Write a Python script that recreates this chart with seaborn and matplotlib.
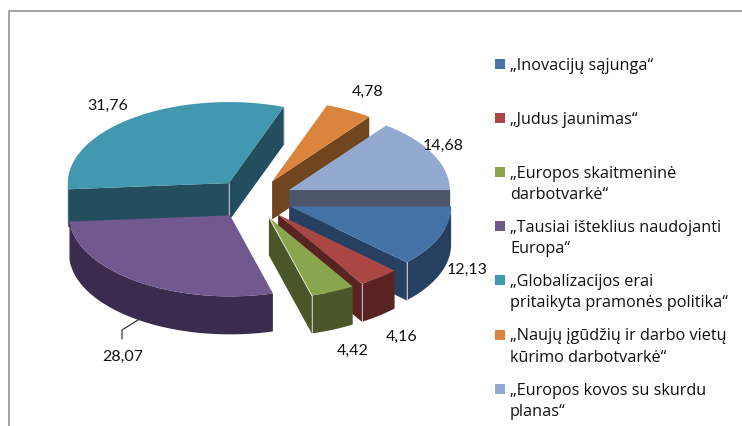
# 3D style exploded pie, drawn by hand since matplotlib has no such pie
import numpy as np
import matplotlib
matplotlib.use('Agg')
import matplotlib.pyplot as plt
import seaborn as sns

# data
names = ['„Inovacijų sąjunga“', '„Judus jaunimas“',
         '„Europos skaitmeninė\ndarbotvarkė“',
         '„Tausiai išteklius naudojanti\nEuropa“',
         '„Globalizacijos erai\npritaikyta pramonės politika“',
         '„Naujų įgūdžių ir darbo vietų\nkūrimo darbotvarkė“',
         '„Europos kovos su skurdu\nplanas“']
values = [12.13, 4.16, 4.42, 28.07, 31.76, 4.78, 14.68]
value_labels = ['12,13', '4,16', '4,42', '28,07', '31,76', '4,78', '14,68']
top_colors = ['#4472a7', '#aa4644', '#89a54e', '#71588f', '#4198af', '#db843d', '#93a9cf']
side_colors = ['#254061', '#592322', '#4a5628', '#3b2c4f', '#234e5d', '#71461f', '#4c5568']

# pixel layout of the pie
cx, cy = 253, 199
rx, ry = 161, 81
depth = 38
explode = 40
draw_order = [4, 5, 6, 0, 1, 2, 3]
label_pos = [(467, 270), (402, 337), (353, 351), (123, 357), (108, 106), (368, 92), (443, 146)]

sns.set_theme(style='white')
plt.rcParams['font.family'] = ['Lato', 'DejaVu Sans']
palette = sns.color_palette(top_colors)

fig, ax = plt.subplots(figsize=(7.42, 4.26), dpi=100)
ax.set_position([0, 0, 1, 1])
ax.set_xlim(0, 742)
ax.set_ylim(426, 0)
ax.axis('off')

# frame of the pasted chart
ax.plot([9, 9, 742], [426, 11, 11], color='#9c9c9c', lw=1.3)

# slice angles, clockwise from east
edges = np.radians(np.concatenate([[0], np.cumsum(values)]) * 3.6)


def rim(a):
    return np.cos(a) * rx, np.sin(a) * ry


for z, i in enumerate(draw_order):
    # later slices must cover the lines of earlier ones too
    z = z * 4 + 3
    a0, a1 = edges[i], edges[i + 1]
    mid = (a0 + a1) / 2
    ox = cx + explode * np.cos(mid)
    oy = cy + explode * 0.5 * np.sin(mid)
    arc = np.linspace(a0, a1, 80)
    ex, ey = rim(arc)

    # cut faces that look towards the viewer
    if np.sin(a0 - np.pi / 2) > 0:
        x0, y0 = rim(a0)
        ax.fill([ox, ox + x0, ox + x0, ox], [oy, oy + y0, oy + y0 + depth, oy + depth],
                color=side_colors[i], lw=0, zorder=z)
    if np.sin(a1 + np.pi / 2) > 0:
        x1, y1 = rim(a1)
        ax.fill([ox, ox + x1, ox + x1, ox], [oy, oy + y1, oy + y1 + depth, oy + depth],
                color=side_colors[i], lw=0, zorder=z)
        ax.plot([ox + x1, ox + x1], [oy + y1, oy + y1 + depth], color='#d5d8dc', lw=0.6, zorder=z + 2)

    # outer wall, only the front part shows
    front = arc[np.sin(arc) > 0]
    if len(front) > 1:
        wx, wy = rim(front)
        ax.fill(np.r_[ox + wx, (ox + wx)[::-1]], np.r_[oy + wy, (oy + wy + depth)[::-1]],
                color=side_colors[i], lw=0, zorder=z)

    # top
    ax.fill(np.r_[ox, ox + ex], np.r_[oy, oy + ey], color=palette[i], lw=0, zorder=z + 1)

    # inner corner of the big slice
    if i == 4:
        ax.plot([ox, ox], [oy, oy + depth], color='#c8ccd0', lw=0.6, zorder=z + 2)
    # the green one has a bright edge along its top
    if i == 2:
        ax.plot([ox, ox + ex[-1]], [oy, oy + ey[-1]], color='#f2f2f2', lw=0.6, zorder=z + 2)

# leader line of the purple slice
ax.plot([138, 122, 122], [320, 330, 339], color='#222222', lw=0.8, zorder=50)

for (x, y), lab in zip(label_pos, value_labels):
    ax.text(x, y, lab, ha='center', va='center', fontsize=11.5, color='#111111', zorder=60)

# legend by hand, rows are evenly spaced
for i, name in enumerate(names):
    y = 63.5 + i * 54.2
    ax.add_patch(plt.Rectangle((495, y - 5), 10, 10, color=palette[i], lw=0))
    ax.text(510, y - 6, name, ha='left', va='top', fontsize=11.7, color='#111111', linespacing=1.42,
            family=['Open Sans', 'DejaVu Sans'])

fig.savefig('out.png', dpi=100)
